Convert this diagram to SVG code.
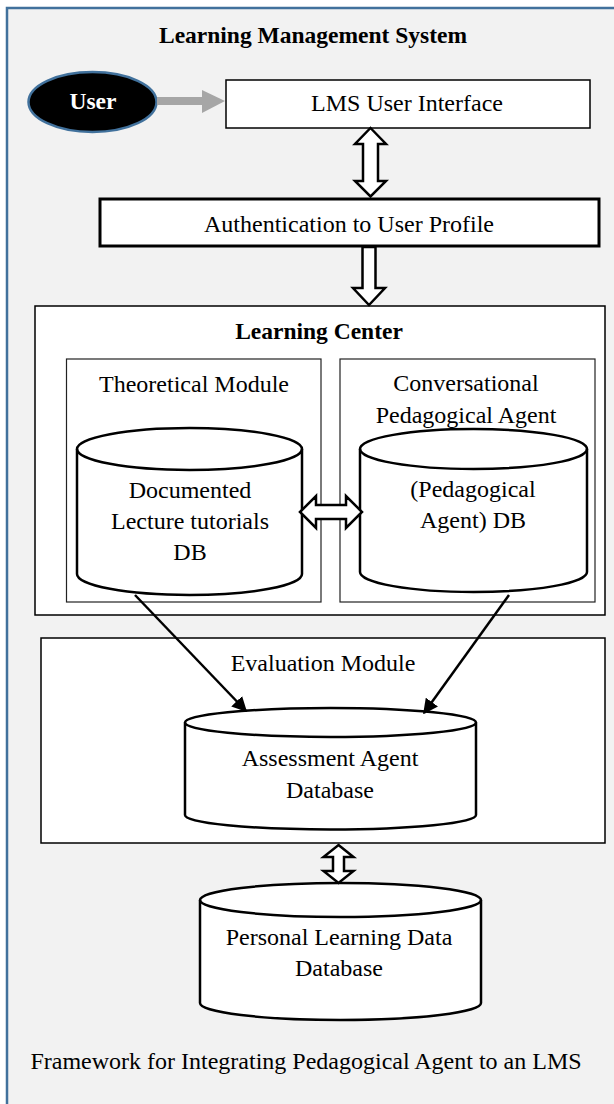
<svg xmlns="http://www.w3.org/2000/svg" width="614" height="1104" viewBox="0 0 614 1104">
<defs>
<style>
text{font-family:"Liberation Serif","Times New Roman",serif;font-size:24px;fill:#000;text-anchor:middle}
.b{font-weight:bold;font-size:23.5px}
.box{fill:#fff;stroke:#000;stroke-width:1.5}
.thin{fill:#fff;stroke:#222;stroke-width:1.2}
.cyl{fill:#fff;stroke:#000;stroke-width:2.5}
.cfront{fill:none;stroke:#000;stroke-width:2.5}
.blk{fill:#fff;stroke:#000;stroke-width:2.5;stroke-linejoin:miter}
.ln{stroke:#000;stroke-width:2.5;fill:none}
</style>
<marker id="ah" viewBox="0 0 10 10" refX="9" refY="5" markerWidth="6" markerHeight="6" orient="auto" markerUnits="strokeWidth">
<path d="M0,0 L10,5 L0,10 Z" fill="#000"/>
</marker>
</defs>
<rect id="frame" x="7" y="8" width="630" height="1120" fill="#f2f2f2" stroke="#41719c" stroke-width="2.5"/>
<text class="b" x="313" y="43">Learning Management System</text>
<g id="user">
<ellipse cx="92.5" cy="102" rx="64" ry="30" fill="#000" stroke="#41719c" stroke-width="2.5"/>
<text class="b" x="93" y="109" style="fill:#fff">User</text>
</g>
<g id="lms-ui">
<rect class="box" x="226" y="80" width="364" height="48"/>
<text x="407" y="111">LMS User Interface</text>
</g>
<g id="auth">
<rect class="box" x="100" y="199" width="499" height="47" style="stroke-width:3"/>
<text x="349" y="232">Authentication to User Profile</text>
</g>
<g id="learning-center">
<rect class="box" x="35" y="306" width="570" height="309"/>
<text class="b" x="319" y="339">Learning Center</text>
</g>
<g id="theoretical">
<rect class="thin" x="66.5" y="359" width="254.5" height="243"/>
<text x="194" y="392">Theoretical Module</text>
</g>
<g id="conversational">
<rect class="thin" x="340" y="359" width="255" height="243"/>
<text x="466" y="391">Conversational</text>
<text x="466" y="423">Pedagogical Agent</text>
</g>
<g id="lecture-db">
<path class="cyl" d="M77,449 A112.5,21 0 0 1 302,449 L302,574 A112.5,21 0 0 1 77,574 Z"/>
<path class="cfront" d="M77,449 A112.5,21 0 0 0 302,449"/>
<text x="190" y="498">Documented</text>
<text x="190" y="529">Lecture tutorials</text>
<text x="190" y="560">DB</text>
</g>
<g id="agent-db">
<path class="cyl" d="M360,449 A113.5,20 0 0 1 587,449 L587,572 A113.5,20 0 0 1 360,572 Z"/>
<path class="cfront" d="M360,449 A113.5,20 0 0 0 587,449"/>
<text x="473" y="497">(Pedagogical</text>
<text x="473" y="528">Agent) DB</text>
</g>
<g id="evaluation">
<rect class="box" x="41" y="638" width="564" height="205"/>
<text x="323" y="671">Evaluation Module</text>
</g>
<g id="assessment-db">
<path class="cyl" d="M185,722.5 A145.5,14.5 0 0 1 476,722.5 L476,815 A145.5,14.5 0 0 1 185,815 Z"/>
<path class="cfront" d="M185,722.5 A145.5,14.5 0 0 0 476,722.5"/>
<text x="330" y="766">Assessment Agent</text>
<text x="330" y="798">Database</text>
</g>
<g id="personal-db">
<path class="cyl" d="M200,900 A140.5,17 0 0 1 481,900 L481,1003 A140.5,17 0 0 1 200,1003 Z"/>
<path class="cfront" d="M200,900 A140.5,17 0 0 0 481,900"/>
<text x="339" y="945">Personal Learning Data</text>
<text x="339" y="976">Database</text>
</g>
<g id="connectors">
<line x1="157" y1="101" x2="203" y2="101" stroke="#a6a6a6" stroke-width="8"/>
<polygon points="202,90 225,101 202,113" fill="#a6a6a6"/>
<path class="blk" d="M370.5,128 L386,144 L378,144 L378,181 L386,181 L370.5,196.5 L355,181 L363,181 L363,144 L355,144 Z"/>
<path class="blk" d="M362.5,247 L375.5,247 L375.5,288 L385,288 L369,305 L353,288 L362.5,288 Z"/>
<path class="blk" d="M300,512 L316,496 L316,505 L346,505 L346,496 L362,512 L346,528 L346,519 L316,519 L316,528 Z"/>
<path class="blk" d="M338.5,845 L353.5,857 L344,857 L344,871 L353.5,871 L338.5,883 L323.5,871 L333,871 L333,857 L323.5,857 Z"/>
<line class="ln" x1="135" y1="595" x2="246" y2="711" marker-end="url(#ah)"/>
<line class="ln" x1="509" y1="595" x2="424" y2="713" marker-end="url(#ah)"/>
</g>
<text x="306" y="1069">Framework for Integrating Pedagogical Agent to an LMS</text>
</svg>
